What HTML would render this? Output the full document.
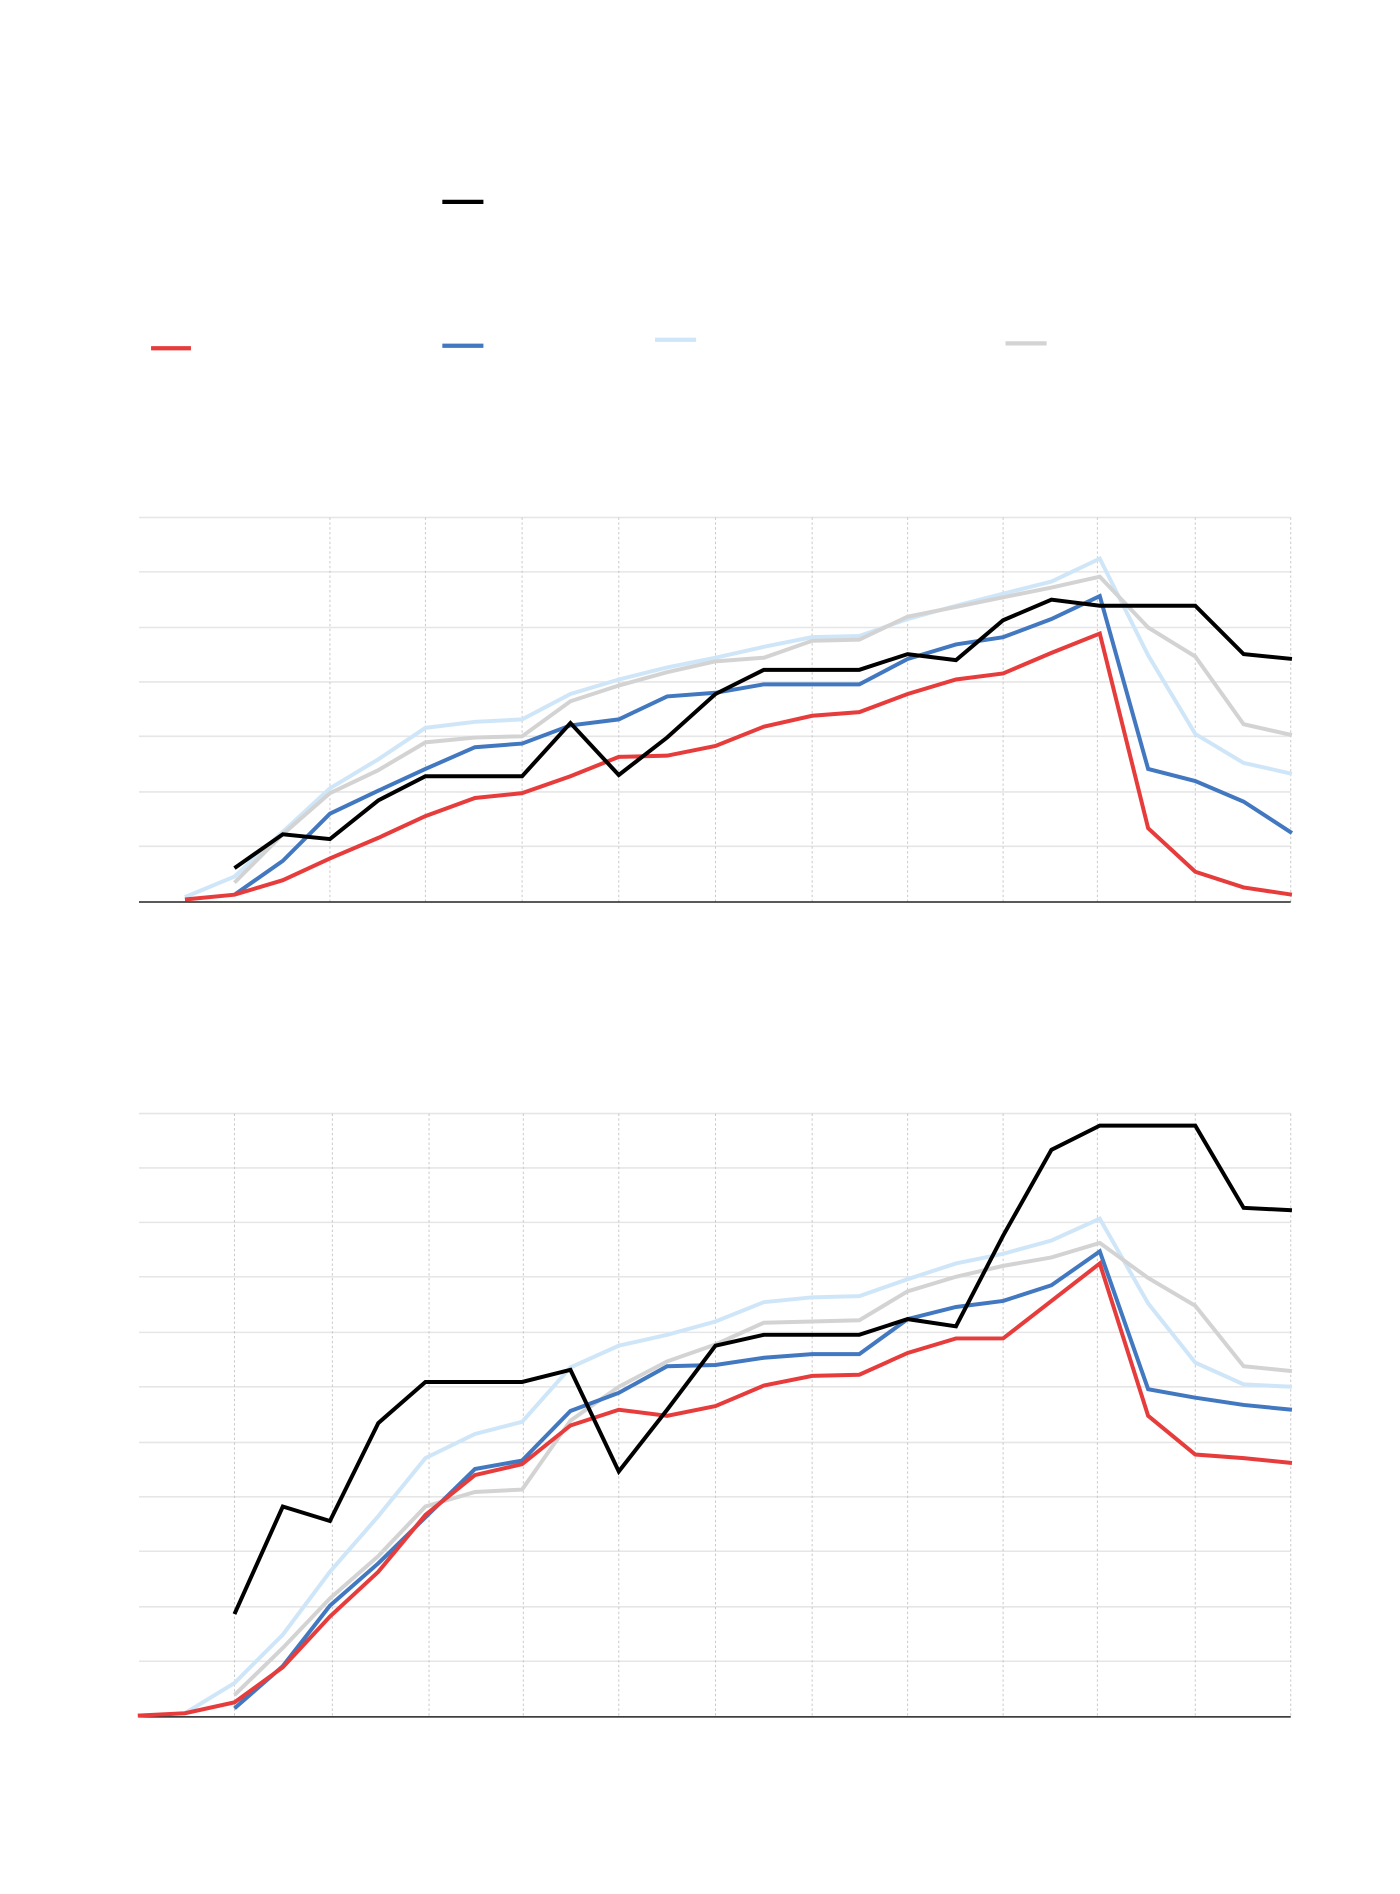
<!DOCTYPE html>
<html><head><meta charset="utf-8"><style>html,body{margin:0;padding:0;background:#fff}svg{display:block}</style></head>
<body>
<svg width="1400" height="1894" viewBox="0 0 1158.4 1566.5" preserveAspectRatio="none" xmlns="http://www.w3.org/2000/svg">
<rect width="1158.4" height="1566.5" fill="#fff"/>
<g stroke="#e6e6e6" stroke-width="1.3">
<line x1="115" x2="1068" y1="428" y2="428"/><line x1="115" x2="1068" y1="473" y2="473"/><line x1="115" x2="1068" y1="519" y2="519"/><line x1="115" x2="1068" y1="564" y2="564"/><line x1="115" x2="1068" y1="609" y2="609"/><line x1="115" x2="1068" y1="655" y2="655"/><line x1="115" x2="1068" y1="700" y2="700"/>
<line x1="115" x2="1068" y1="921" y2="921"/><line x1="115" x2="1068" y1="966" y2="966"/><line x1="115" x2="1068" y1="1011" y2="1011"/><line x1="115" x2="1068" y1="1056" y2="1056"/><line x1="115" x2="1068" y1="1102" y2="1102"/><line x1="115" x2="1068" y1="1147" y2="1147"/><line x1="115" x2="1068" y1="1193" y2="1193"/><line x1="115" x2="1068" y1="1238" y2="1238"/><line x1="115" x2="1068" y1="1283" y2="1283"/><line x1="115" x2="1068" y1="1329" y2="1329"/><line x1="115" x2="1068" y1="1374" y2="1374"/>
</g>
<g stroke="#c8c8c8" stroke-width="0.8" stroke-dasharray="2,2">
<line x1="273" x2="273" y1="428" y2="746"/><line x1="352" x2="352" y1="428" y2="746"/><line x1="432" x2="432" y1="428" y2="746"/><line x1="512" x2="512" y1="428" y2="746"/><line x1="592" x2="592" y1="428" y2="746"/><line x1="672" x2="672" y1="428" y2="746"/><line x1="751" x2="751" y1="428" y2="746"/><line x1="830" x2="830" y1="428" y2="746"/><line x1="908" x2="908" y1="428" y2="746"/><line x1="989" x2="989" y1="428" y2="746"/><line x1="1068" x2="1068" y1="428" y2="746"/>
<line x1="194" x2="194" y1="921" y2="1420"/><line x1="275" x2="275" y1="921" y2="1420"/><line x1="355" x2="355" y1="921" y2="1420"/><line x1="433" x2="433" y1="921" y2="1420"/><line x1="512" x2="512" y1="921" y2="1420"/><line x1="592" x2="592" y1="921" y2="1420"/><line x1="672" x2="672" y1="921" y2="1420"/><line x1="751" x2="751" y1="921" y2="1420"/><line x1="830" x2="830" y1="921" y2="1420"/><line x1="908" x2="908" y1="921" y2="1420"/><line x1="989" x2="989" y1="921" y2="1420"/><line x1="1068" x2="1068" y1="921" y2="1420"/>
</g>
<line x1="115" x2="1068" y1="746" y2="746" stroke="#222" stroke-width="1.2"/>
<line x1="115" x2="1068" y1="1420" y2="1420" stroke="#222" stroke-width="1.2"/>
<g fill="none" stroke-width="3.3" stroke-linejoin="miter">
<polyline stroke="#cfe6f8" points="153,742 194,725 234,688 273,652 313,628 352,602 393,597 432,595 472,574 512,562 552,552 592,544 632,535 672,527 711,526 751,512 791,501 830,491 870,481 910,462 950,542 989,607 1029,631 1069,640"/>
<polyline stroke="#d3d3d3" points="194,730 234,690 273,656 313,637 352,614 393,610 432,609 472,580 512,567 552,556 592,547 632,544 672,530 711,529 751,510 791,502 830,494 870,486 910,477 950,519 989,543 1029,599 1069,608"/>
<polyline stroke="#4178c0" points="194,740 234,712 273,673 313,654 352,636 393,618 432,615 472,600 512,595 552,576 592,573 632,566 672,566 711,566 751,545 791,533 830,527 870,512 910,493 950,636 989,646 1029,663 1069,689"/>
<polyline stroke="#e63c3c" points="153,744 194,740 234,728 273,710 313,693 352,675 393,660 432,656 472,642 512,626 552,625 592,617 632,601 672,592 711,589 751,574 791,562 830,557 870,540 910,524 950,685 989,721 1029,734 1069,740"/>
<polyline stroke="#000" points="194,718 234,690 273,694 313,662 352,642 393,642 432,642 472,598 512,641 552,610 592,574 632,554 672,554 711,554 751,541 791,546 830,513 870,496 910,501 950,501 989,501 1029,541 1069,545"/>

<polyline stroke="#cfe6f8" points="153,1417 194,1392 234,1352 273,1300 313,1254 352,1206 393,1186 432,1176 472,1131 512,1113 552,1104 592,1093 632,1077 672,1073 711,1072 751,1058 791,1045 830,1037 870,1026 910,1008 950,1078 989,1127 1029,1145 1069,1147"/>
<polyline stroke="#d3d3d3" points="194,1402 234,1363 273,1322 313,1287 352,1246 393,1234 432,1232 472,1175 512,1147 552,1126 592,1112 632,1094 672,1093 711,1092 751,1068 791,1056 830,1047 870,1040 910,1028 950,1057 989,1080 1029,1130 1069,1134"/>
<polyline stroke="#4178c0" points="194,1413 234,1378 273,1328 313,1293 352,1255 393,1215 432,1208 472,1167 512,1152 552,1130 592,1129 632,1123 672,1120 711,1120 751,1091 791,1081 830,1076 870,1063 910,1035 950,1149 989,1156 1029,1162 1069,1166"/>
<polyline stroke="#e63c3c" points="114,1419 153,1417 194,1408 234,1379 273,1337 313,1300 352,1253 393,1220 432,1211 472,1179 512,1166 552,1171 592,1163 632,1146 672,1138 711,1137 751,1119 791,1107 830,1107 870,1076 910,1045 950,1171 989,1203 1029,1206 1069,1210"/>
<polyline stroke="#000" points="194,1335 234,1246 273,1258 313,1177 352,1143 393,1143 432,1143 472,1133 512,1217 552,1166 592,1113 632,1104 672,1104 711,1104 751,1091 791,1097 830,1022 870,951 910,931 950,931 989,931 1029,999 1069,1001"/>
</g>
<g stroke-width="3.5">
<line x1="366" x2="400" y1="167" y2="167" stroke="#000"/>
<line x1="125" x2="158" y1="288" y2="288" stroke="#e63c3c"/>
<line x1="366" x2="400" y1="286" y2="286" stroke="#4178c0"/>
<line x1="542" x2="576" y1="281" y2="281" stroke="#cfe6f8"/>
<line x1="832" x2="866" y1="284" y2="284" stroke="#d3d3d3"/>
</g>
</svg>
</body></html>
